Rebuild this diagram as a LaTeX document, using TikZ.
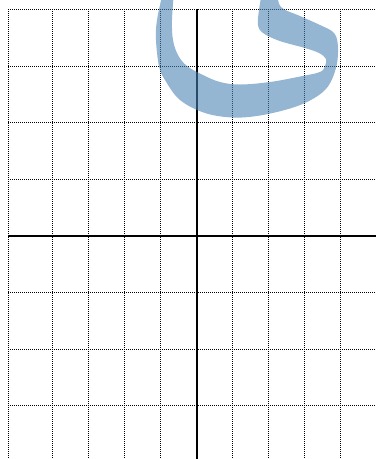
\documentclass[tikz,border=0pt]{standalone}
\usetikzlibrary{calc}
\definecolor{curveblue}{RGB}{70,130,180}
\tikzset{
  gridline/.style={black, line width=0.9pt, dash pattern=on 1pt off 1pt},
  axisline/.style={black, line width=2.2pt},
  band/.style={fill=curveblue, fill opacity=0.58, draw=none}
}
\begin{document}
\begin{tikzpicture}[x=1pt,y=-1pt]
\useasboundingbox (0,0) rectangle (376,459);
\clip (0,0) rectangle (376,459);
% grid
\foreach \gx in {8,52.7,88.7,124.7,160.7,232.7,268.7,304.7,340.7}
  \draw[gridline] (\gx,9.4) -- (\gx,459);
\foreach \gy in {9.4,66,122.6,179.2,292.4,349,405.6}
  \draw[gridline] (8,\gy) -- (376,\gy);
% axes
\draw[axisline] (8,235.8) -- (376,235.8);
\draw[axisline] (196.7,9.4) -- (196.7,459);
% blue band
\fill[band]
  plot[smooth, tension=0.6] coordinates {(163,-8) (157,20) (156,40) (159,66) (165,80) (180,100) (205,113) (233,117.5) (260,115.5) (290,108.5) (310,100.5) (325,90) (333,77) (337.5,60) (337.5,42) (333,32) (320,25) (300,16) (281,7) (277,-8)}
  -- plot[smooth, tension=0.6] coordinates {(262,-8) (259,10) (258,25) (263,33) (277,40) (290,44) (305,48) (319,53) (326,59) (325,66) (320,72) (300,76.5) (270,82) (240,84.5) (220,82) (203,75) (187,66) (178,55) (173,40) (172,20) (174,-8)}
  -- cycle;
\end{tikzpicture}
\end{document}
